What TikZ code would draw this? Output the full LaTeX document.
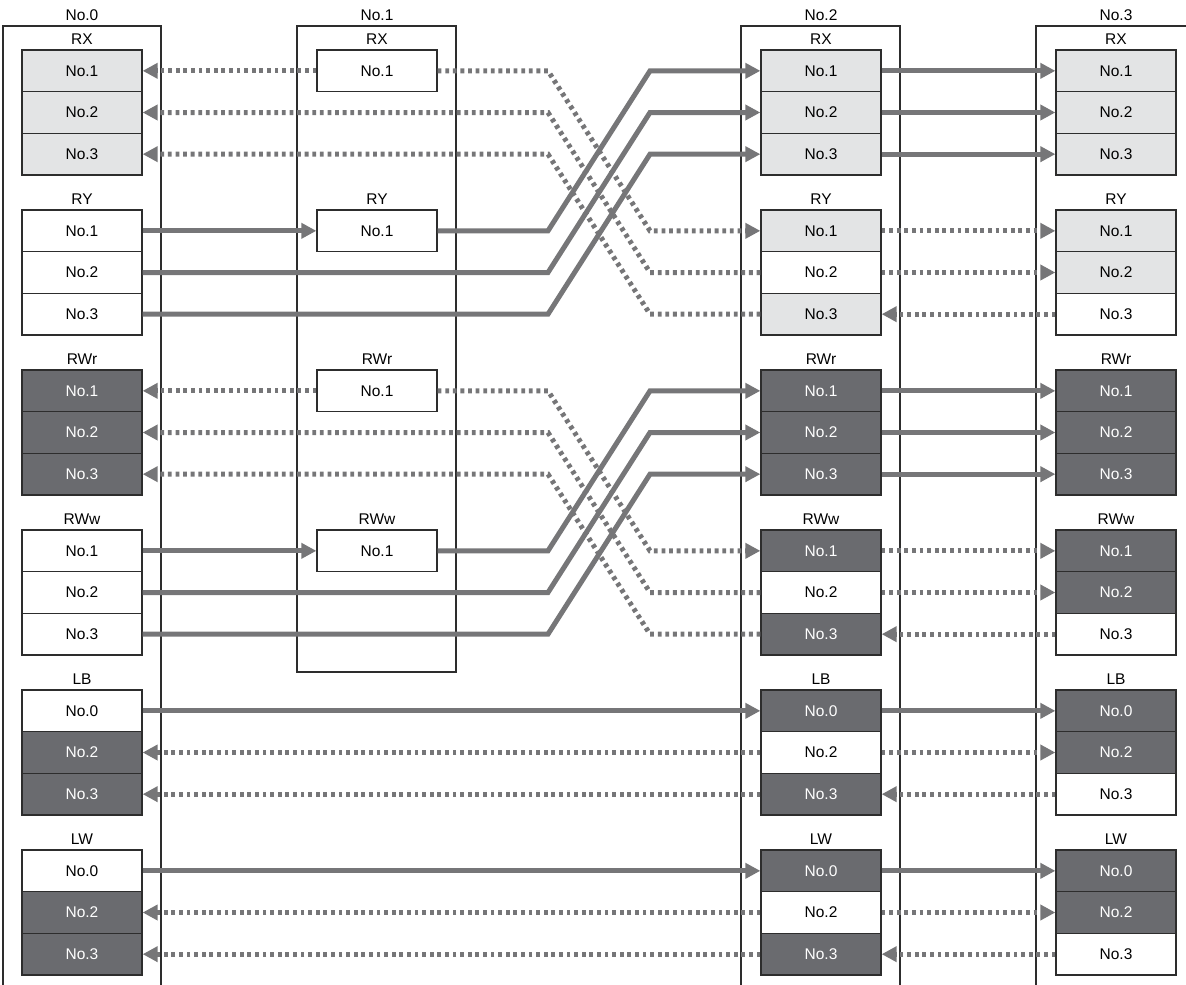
\documentclass[tikz,border=0pt]{standalone}
\usepackage{fontspec}
\setmainfont{Liberation Sans}
\usetikzlibrary{arrows.meta}
\definecolor{agray}{RGB}{118,118,120}
\definecolor{lfill}{RGB}{227,228,229}
\definecolor{dfill}{RGB}{106,107,111}
\definecolor{bline}{RGB}{45,45,45}
\newcommand\regset[8]{%
  \node[lbl] (#1-l) at (#2,#3-11) {#4};
  \node[rbox,#5] (#1-1) at (#2,#3+20.83) {No.#8};
  \node[rbox,#6] (#1-2) at (#2,#3+62.5) {No.2};
  \node[rbox,#7] (#1-3) at (#2,#3+104.17) {No.3};
}
\newcommand\regone[4]{%
  \node[lbl] (#1-l) at (#2,#3-11) {#4};
  \node[rbox,fw] (#1-1) at (#2,#3+20.83) {No.1};
}
\begin{document}
\begin{tikzpicture}[x=1pt,y=-1pt,
  lbl/.style={inner sep=0pt,font=\fontsize{15.5}{17}\selectfont},
  rbox/.style={draw=bline,line width=1.3pt,minimum width=120pt,minimum height=41.67pt,inner sep=0pt,font=\fontsize{15.5}{17}\selectfont},
  fw/.style={fill=white,text=black},
  fl/.style={fill=lfill,text=black},
  fd/.style={fill=dfill,text=white},
  frame/.style={draw=bline,line width=1.1pt},
  sline/.style={draw=agray,line width=5pt,line join=miter},
  sarrow/.style={sline,-{Triangle[length=15pt,width=15pt]}},
  dline/.style={draw=agray,line width=5pt,dash pattern=on 3.8pt off 3.8pt,line join=miter},
  darrow/.style={dline,-{Triangle[length=15pt,width=15pt]}}]
\useasboundingbox (0,0) rectangle (1186,985);
% frames
\draw[frame] (3,995) -- (3,26) -- (161,26) -- (161,995);
\draw[frame] (297,26) rectangle (456,672);
\draw[frame] (741,995) -- (741,26) -- (900,26) -- (900,995);
\draw[frame] (1036,995) -- (1036,26) -- (1200,26);
% titles
\node[lbl] (t0) at (82,15) {No.0};
\node[lbl] (t1) at (377,15) {No.1};
\node[lbl] (t2) at (821,15) {No.2};
\node[lbl] (t3) at (1116,15) {No.3};
% column No.0
\regset{c0rx}{82}{50}{RX}{fl}{fl}{fl}{1}
\regset{c0ry}{82}{210}{RY}{fw}{fw}{fw}{1}
\regset{c0rwr}{82}{370}{RWr}{fd}{fd}{fd}{1}
\regset{c0rww}{82}{530}{RWw}{fw}{fw}{fw}{1}
\regset{c0lb}{82}{690}{LB}{fw}{fd}{fd}{0}
\regset{c0lw}{82}{850}{LW}{fw}{fd}{fd}{0}
% column No.1
\regone{c1rx}{377}{50}{RX}
\regone{c1ry}{377}{210}{RY}
\regone{c1rwr}{377}{370}{RWr}
\regone{c1rww}{377}{530}{RWw}
% column No.2
\regset{c2rx}{821}{50}{RX}{fl}{fl}{fl}{1}
\regset{c2ry}{821}{210}{RY}{fl}{fw}{fl}{1}
\regset{c2rwr}{821}{370}{RWr}{fd}{fd}{fd}{1}
\regset{c2rww}{821}{530}{RWw}{fd}{fw}{fd}{1}
\regset{c2lb}{821}{690}{LB}{fd}{fw}{fd}{0}
\regset{c2lw}{821}{850}{LW}{fd}{fw}{fd}{0}
% column No.3
\regset{c3rx}{1116}{50}{RX}{fl}{fl}{fl}{1}
\regset{c3ry}{1116}{210}{RY}{fl}{fl}{fw}{1}
\regset{c3rwr}{1116}{370}{RWr}{fd}{fd}{fd}{1}
\regset{c3rww}{1116}{530}{RWw}{fd}{fd}{fw}{1}
\regset{c3lb}{1116}{690}{LB}{fd}{fd}{fw}{0}
\regset{c3lw}{1116}{850}{LW}{fd}{fd}{fw}{0}
% bend columns
\coordinate (bL) at (548,0);
\coordinate (bR) at (650,0);
% RX/RY and RWr/RWw connectors
\foreach \A/\B in {rx/ry,rwr/rww}{
  \draw[darrow] (c1\A-1.west) -- (c0\A-1.east);
  \draw[darrow] (c1\A-1.east) -- (c1\A-1.east -| bL) -- (c2\B-1.west -| bR) -- (c2\B-1.west);
  \draw[darrow] (c2\B-2.west) -- (c2\B-2.west -| bR) -- (c0\A-2.east -| bL) -- (c0\A-2.east);
  \draw[darrow] (c2\B-3.west) -- (c2\B-3.west -| bR) -- (c0\A-3.east -| bL) -- (c0\A-3.east);
  \draw[sarrow] (c0\B-1.east) -- (c1\B-1.west);
  \draw[sarrow] (c1\B-1.east) -- (c1\B-1.east -| bL) -- (c2\A-1.west -| bR) -- (c2\A-1.west);
  \draw[sarrow] (c0\B-2.east) -- (c0\B-2.east -| bL) -- (c2\A-2.west -| bR) -- (c2\A-2.west);
  \draw[sarrow] (c0\B-3.east) -- (c0\B-3.east -| bL) -- (c2\A-3.west -| bR) -- (c2\A-3.west);
  \foreach \i in {1,2,3}{\draw[sarrow] (c2\A-\i.east) -- (c3\A-\i.west);}
  \draw[darrow] (c2\B-1.east) -- (c3\B-1.west);
  \draw[darrow] (c2\B-2.east) -- (c3\B-2.west);
  \draw[darrow] (c3\B-3.west) -- (c2\B-3.east);
}
% LB / LW connectors
\foreach \L in {lb,lw}{
  \draw[sarrow] (c0\L-1.east) -- (c2\L-1.west);
  \draw[darrow] (c2\L-2.west) -- (c0\L-2.east);
  \draw[darrow] (c2\L-3.west) -- (c0\L-3.east);
  \draw[sarrow] (c2\L-1.east) -- (c3\L-1.west);
  \draw[darrow] (c2\L-2.east) -- (c3\L-2.west);
  \draw[darrow] (c3\L-3.west) -- (c2\L-3.east);
}
\end{tikzpicture}
\end{document}
